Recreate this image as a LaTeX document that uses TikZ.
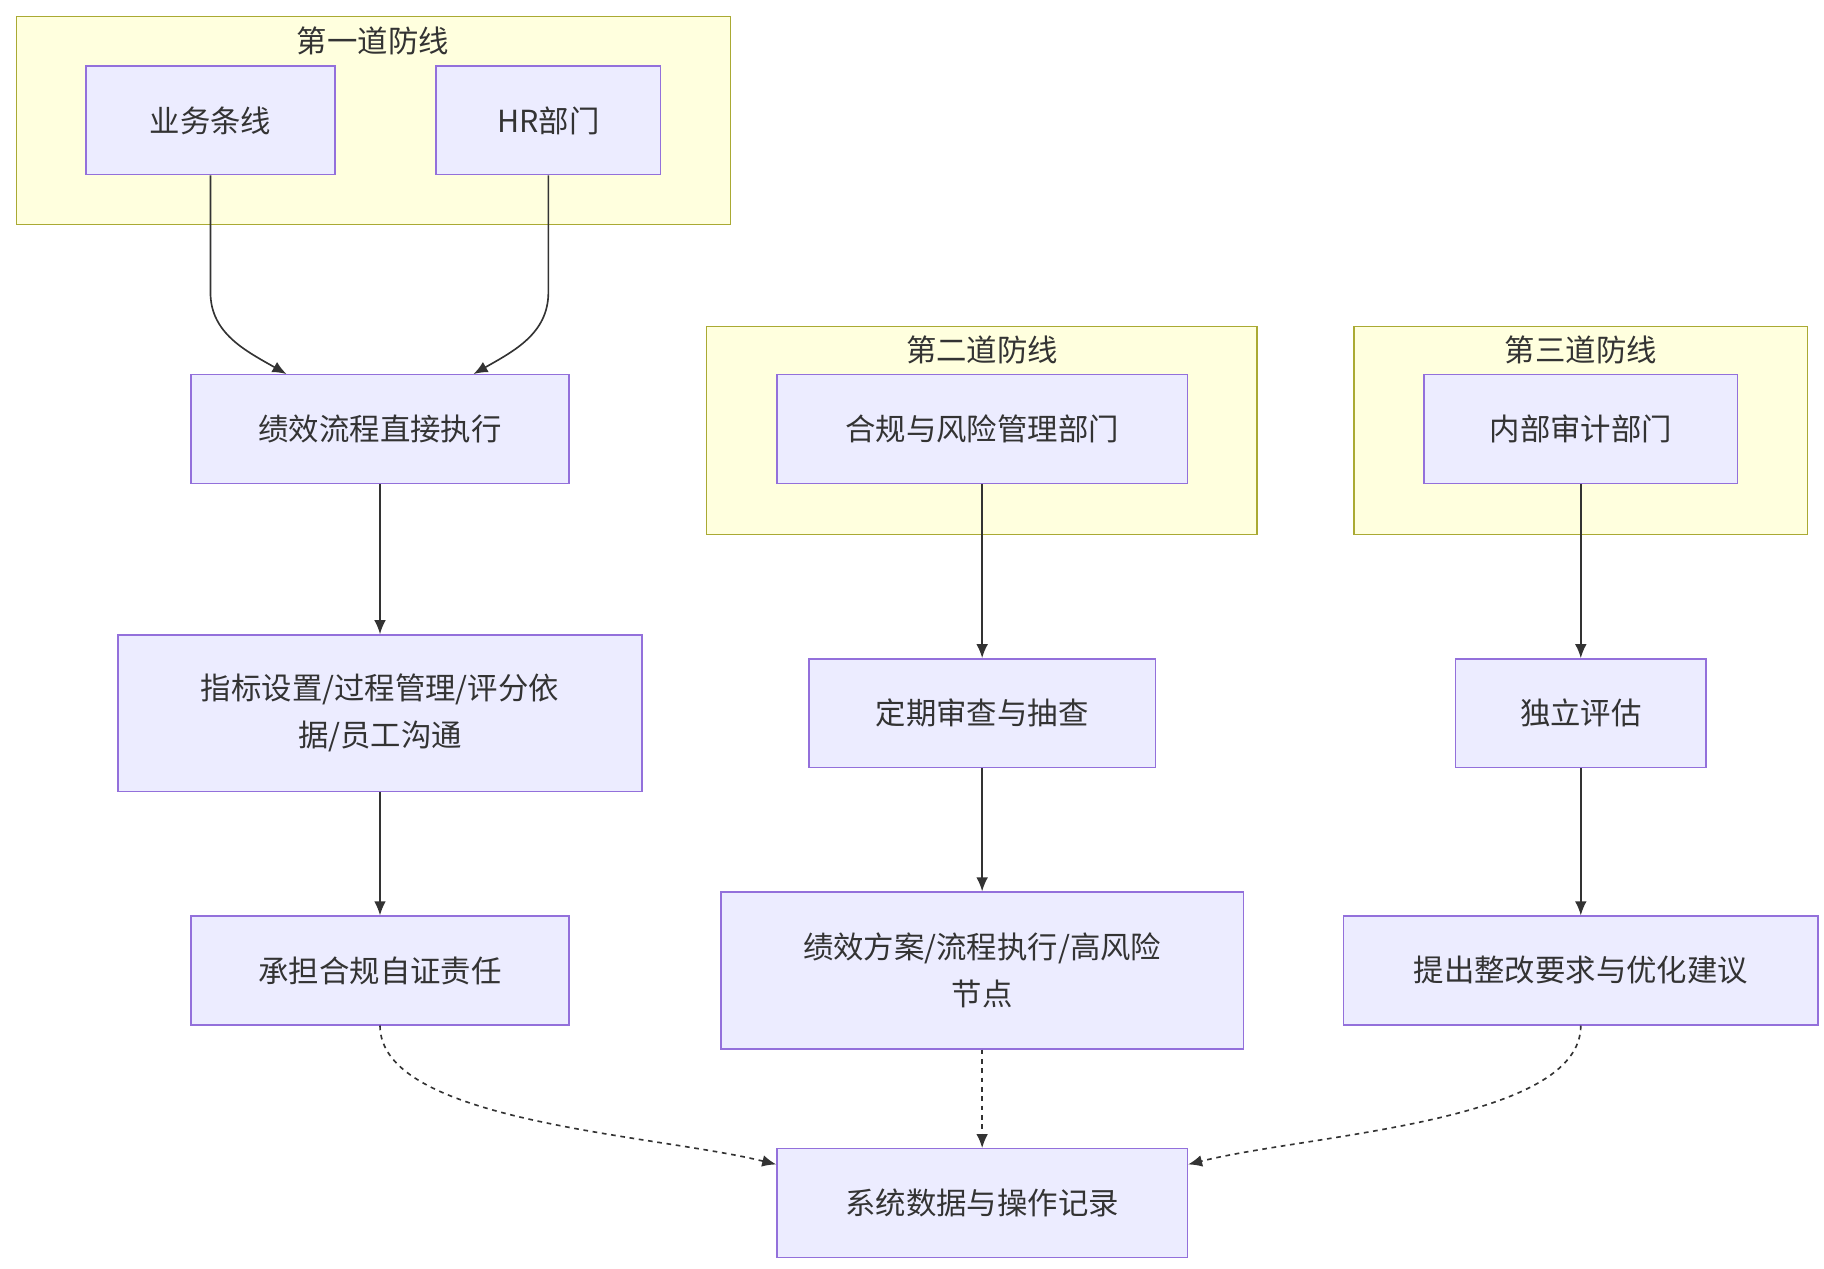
\documentclass[tikz,border=0pt]{standalone}
\usepackage{fontspec}
\setmainfont{Noto Sans CJK SC}
\usetikzlibrary{arrows.meta}
\definecolor{boxfill}{HTML}{ECECFF}
\definecolor{boxline}{HTML}{9370DB}
\definecolor{grpfill}{HTML}{FFFFDE}
\definecolor{grpline}{HTML}{AAAA33}
\definecolor{ink}{HTML}{333333}
\tikzset{
  box/.style={rectangle, draw=boxline, fill=boxfill, line width=0.6pt, minimum height=46.5pt, align=center, text=ink, font=\fontsize{13}{20}\selectfont},
  group/.style={draw=grpline, fill=grpfill, line width=0.6pt},
  title/.style={text=ink, font=\fontsize{13}{16}\selectfont},
  flow/.style={draw=ink, line width=0.7pt, -{Latex[length=6pt,width=5pt]}},
  weak/.style={flow, dashed, dash pattern=on 2pt off 2pt}
}
\begin{document}
\begin{tikzpicture}[x=0.5pt, y=-0.5pt]
  \useasboundingbox (0,0) rectangle (1560,1085);
  % groups
  \draw[group] (14,14) rectangle (625,192);
  \draw[group] (604,279) rectangle (1075,457);
  \draw[group] (1158,279) rectangle (1546,457);
  \node[title] (t1) at (319,35) {第一道防线};
  \node[title] (t2) at (840,299) {第二道防线};
  \node[title] (t3) at (1352,299) {第三道防线};
  % first line
  \node[box, minimum width=106.5pt] (biz) at (180,103) {业务条线};
  \node[box, minimum width=96pt] (hr) at (469,103) {HR部门};
  \node[box, minimum width=161.5pt] (exec) at (325,367) {绩效流程直接执行};
  \node[box, minimum width=224pt, minimum height=67pt] (kpi) at (325,610) {指标设置/过程管理/评分依\\据/员工沟通};
  \node[box, minimum width=161.5pt] (self) at (325,830) {承担合规自证责任};
  % second line
  \node[box, minimum width=175.5pt] (risk) at (840,367) {合规与风险管理部门};
  \node[box, minimum width=148pt] (check) at (840,610) {定期审查与抽查};
  \node[box, minimum width=223.5pt, minimum height=67pt] (plan) at (840,830) {绩效方案/流程执行/高风险\\节点};
  % third line
  \node[box, minimum width=134pt] (audit) at (1352,367) {内部审计部门};
  \node[box, minimum width=107pt] (eval) at (1352,610) {独立评估};
  \node[box, minimum width=203pt] (fix) at (1352,830) {提出整改要求与优化建议};
  % record
  \node[box, minimum width=175.5pt] (log) at (840,1029) {系统数据与操作记录};
  % connectors
  \draw[flow] (biz.south) -- (180,250) .. controls (180,285) and (210,300) .. ([xshift=-40pt]exec.north);
  \draw[flow] (hr.south) -- (469,250) .. controls (469,285) and (440,300) .. ([xshift=40pt]exec.north);
  \draw[flow] (exec) -- (kpi);
  \draw[flow] (kpi) -- (self);
  \draw[flow] (risk) -- (check);
  \draw[flow] (check) -- (plan);
  \draw[flow] (audit) -- (eval);
  \draw[flow] (eval) -- (fix);
  \draw[weak] (self.south) .. controls (325,960) and (560,970) .. ([yshift=-7pt]log.north west);
  \draw[weak] (plan) -- (log);
  \draw[weak] (fix.south) .. controls (1352,960) and (1120,970) .. ([yshift=-7pt]log.north east);
\end{tikzpicture}
\end{document}
